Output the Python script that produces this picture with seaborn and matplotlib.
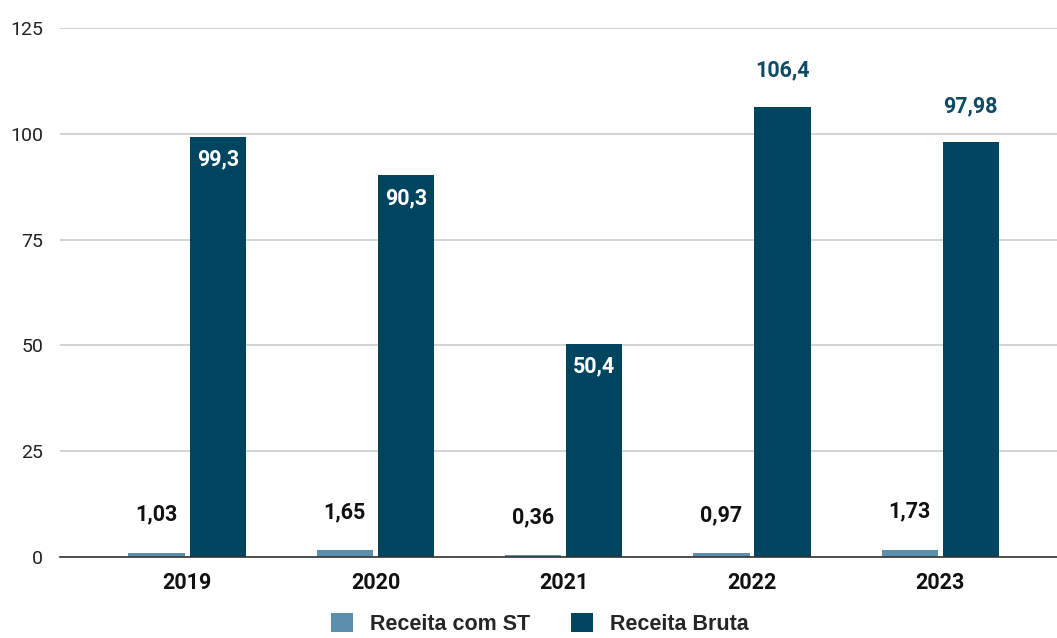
import matplotlib
matplotlib.use("Agg")
import matplotlib.pyplot as plt
import seaborn as sns
import pandas as pd
from matplotlib.patches import Patch

years = ["2019", "2020", "2021", "2022", "2023"]
receita_st = [1.03, 1.65, 0.36, 0.97, 1.73]
receita_bruta = [99.3, 90.3, 50.4, 106.4, 97.98]
labels_st = ["1,03", "1,65", "0,36", "0,97", "1,73"]
labels_bruta = ["99,3", "90,3", "50,4", "106,4", "97,98"]
bruta_label_inside = [True, True, True, False, False]
series = ["Receita com ST", "Receita Bruta"]
colors = ["#5b8fae", "#00455f"]
yticks = [0, 25, 50, 75, 100, 125]

df = pd.DataFrame({
    "ano": years * 2,
    "serie": [series[0]] * len(years) + [series[1]] * len(years),
    "valor": receita_st + receita_bruta,
})

sns.set_theme(style="white")
plt.rcParams["font.family"] = ["Roboto", "DejaVu Sans"]

fig = plt.figure(figsize=(10.57, 6.38), dpi=100)
ax = fig.add_axes([60 / 1057, 1 - 557 / 638, 1 - 60 / 1057, (557 - 28) / 638])

sns.barplot(data=df, x="ano", y="valor", hue="serie", hue_order=series,
            order=years, palette=colors, width=0.65, gap=0.08,
            saturation=1, ax=ax, legend=False, edgecolor="none")

ax.set_ylim(0, 125)
ax.set_xlim(-0.675, 4.62)
ax.set_yticks(yticks)
ax.set_yticklabels([str(t) for t in yticks], fontsize=14, color="#222222")
ax.set_xlabel("")
ax.set_ylabel("")
ax.yaxis.grid(True, color="#cccccc", linewidth=1.2)
ax.set_axisbelow(True)
for s in ["top", "right", "left"]:
    ax.spines[s].set_visible(False)
ax.spines["bottom"].set_color("#333333")
ax.spines["bottom"].set_linewidth(1.2)
ax.tick_params(axis="both", length=0)
ax.tick_params(axis="y", pad=12)
ax.tick_params(axis="x", pad=11)
for lbl in ax.get_xticklabels():
    lbl.set_fontweight("bold")
    lbl.set_fontsize(15.5)
    lbl.set_color("#111111")

# data labels
st_bars = ax.containers[0]
br_bars = ax.containers[1]
for bar, txt in zip(st_bars, labels_st):
    cx = bar.get_x() + bar.get_width() / 2
    ax.annotate(txt, (cx, bar.get_height()), xytext=(0, 38), textcoords="offset pixels",
                ha="center", va="center", fontsize=15.5, fontweight="bold",
                color="#111111")
for bar, txt, inside in zip(br_bars, labels_bruta, bruta_label_inside):
    cx = bar.get_x() + bar.get_width() / 2
    h = bar.get_height()
    if not inside:
        ax.annotate(txt, (cx, h), xytext=(0, 36), textcoords="offset pixels",
                    ha="center", va="center", fontsize=15.5, fontweight="bold",
                    color="#0e4a64")
    else:
        ax.annotate(txt, (cx, h), xytext=(0, -23), textcoords="offset pixels",
                    ha="center", va="center", fontsize=15.5, fontweight="bold",
                    color="white")

handles = [Patch(facecolor=c, edgecolor="none") for c in colors]
fig.legend(handles, series, loc="center", bbox_to_anchor=(540 / 1057, 1 - 624 / 638),
           ncol=2, frameon=False,
           prop={"family": "Liberation Sans", "weight": "bold", "size": 15.5},
           handlelength=1.0, handleheight=1.0, columnspacing=1.9, handletextpad=0.8)

fig.savefig("out.png", dpi=100)
